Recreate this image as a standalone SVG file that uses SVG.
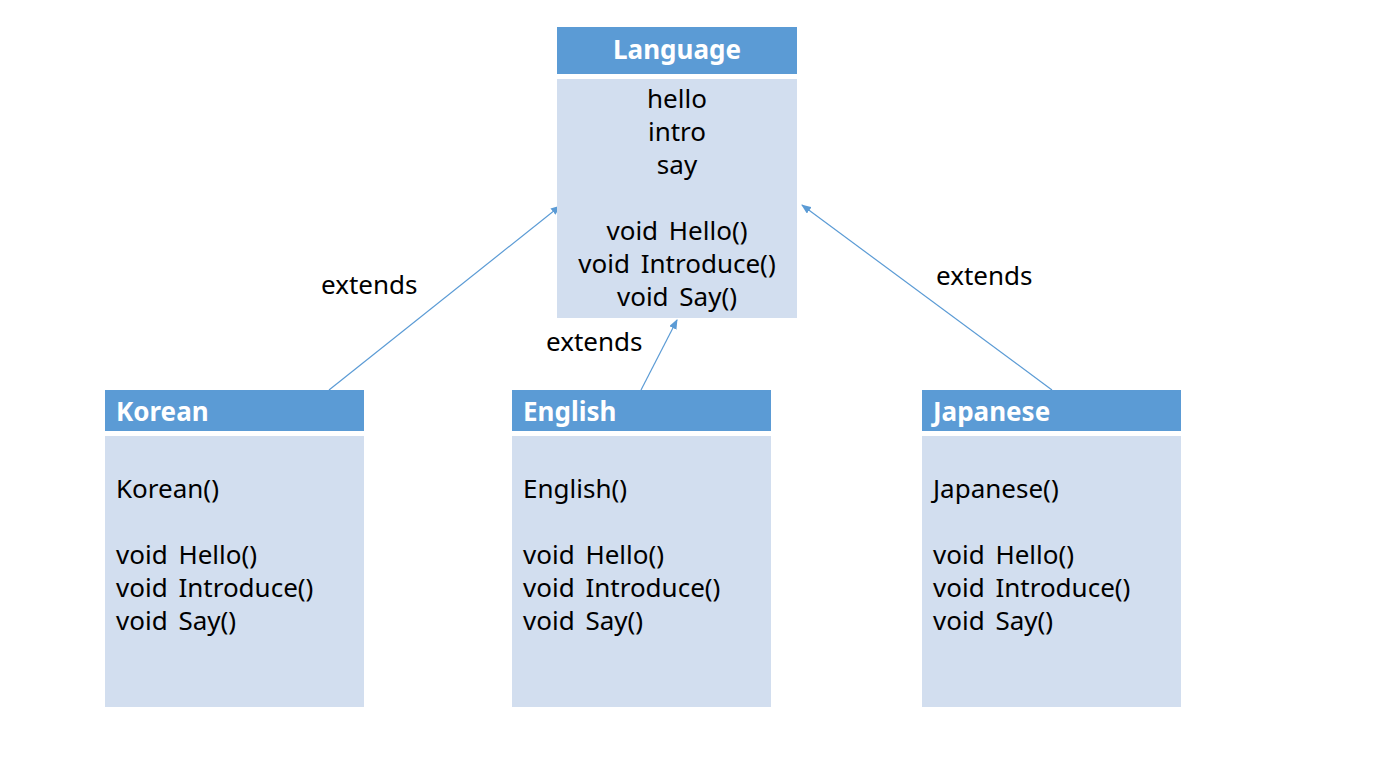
<svg xmlns="http://www.w3.org/2000/svg" width="1384" height="769" viewBox="0 0 1384 769">
<defs>
<style>
.hdr{fill:#5B9BD5}
.body{fill:#D2DEEF}
.title{font-family:"Noto Sans","Open Sans",sans-serif;font-weight:bold;font-size:26px;fill:#FFFFFF}
.t{font-family:"Noto Sans","Open Sans",sans-serif;font-size:26px;word-spacing:4px;fill:#000000}
.c{text-anchor:middle}
.conn{stroke:#5B9BD5;stroke-width:1.2;fill:none}
</style>
<marker id="arr" markerWidth="10" markerHeight="8" refX="9" refY="4" orient="auto" markerUnits="userSpaceOnUse">
<path d="M0,0 L10,4 L0,8 Z" fill="#5B9BD5"/>
</marker>
</defs>
<rect width="1384" height="769" fill="#FFFFFF"/>
<g id="connectors">
<line class="conn" x1="329" y1="390" x2="560" y2="206" marker-end="url(#arr)"/>
<line class="conn" x1="641" y1="390" x2="677" y2="320" marker-end="url(#arr)"/>
<line class="conn" x1="1052" y1="390" x2="802" y2="205" marker-end="url(#arr)"/>
<text class="t" x="321" y="294">extends</text>
<text class="t" x="546" y="351">extends</text>
<text class="t" x="936" y="285">extends</text>
</g>
<g id="language">
<rect class="hdr" x="557" y="27" width="240" height="47"/>
<rect class="body" x="557" y="79" width="240" height="239"/>
<text class="title c" x="677" y="59">Language</text>
<text class="t c" x="677" y="108">hello</text>
<text class="t c" x="677" y="141">intro</text>
<text class="t c" x="677" y="174">say</text>
<text class="t c" x="677" y="240">void Hello()</text>
<text class="t c" x="677" y="273">void Introduce()</text>
<text class="t c" x="677" y="306">void Say()</text>
</g>
<g id="korean">
<rect class="hdr" x="105" y="390" width="259" height="41"/>
<rect class="body" x="105" y="436" width="259" height="271"/>
<text class="title" x="116" y="421">Korean</text>
<text class="t" x="116" y="498">Korean()</text>
<text class="t" x="116" y="564">void Hello()</text>
<text class="t" x="116" y="597">void Introduce()</text>
<text class="t" x="116" y="630">void Say()</text>
</g>
<g id="english">
<rect class="hdr" x="512" y="390" width="259" height="41"/>
<rect class="body" x="512" y="436" width="259" height="271"/>
<text class="title" x="523" y="421">English</text>
<text class="t" x="523" y="498">English()</text>
<text class="t" x="523" y="564">void Hello()</text>
<text class="t" x="523" y="597">void Introduce()</text>
<text class="t" x="523" y="630">void Say()</text>
</g>
<g id="japanese">
<rect class="hdr" x="922" y="390" width="259" height="41"/>
<rect class="body" x="922" y="436" width="259" height="271"/>
<text class="title" x="933" y="421">Japanese</text>
<text class="t" x="933" y="498">Japanese()</text>
<text class="t" x="933" y="564">void Hello()</text>
<text class="t" x="933" y="597">void Introduce()</text>
<text class="t" x="933" y="630">void Say()</text>
</g>
</svg>
